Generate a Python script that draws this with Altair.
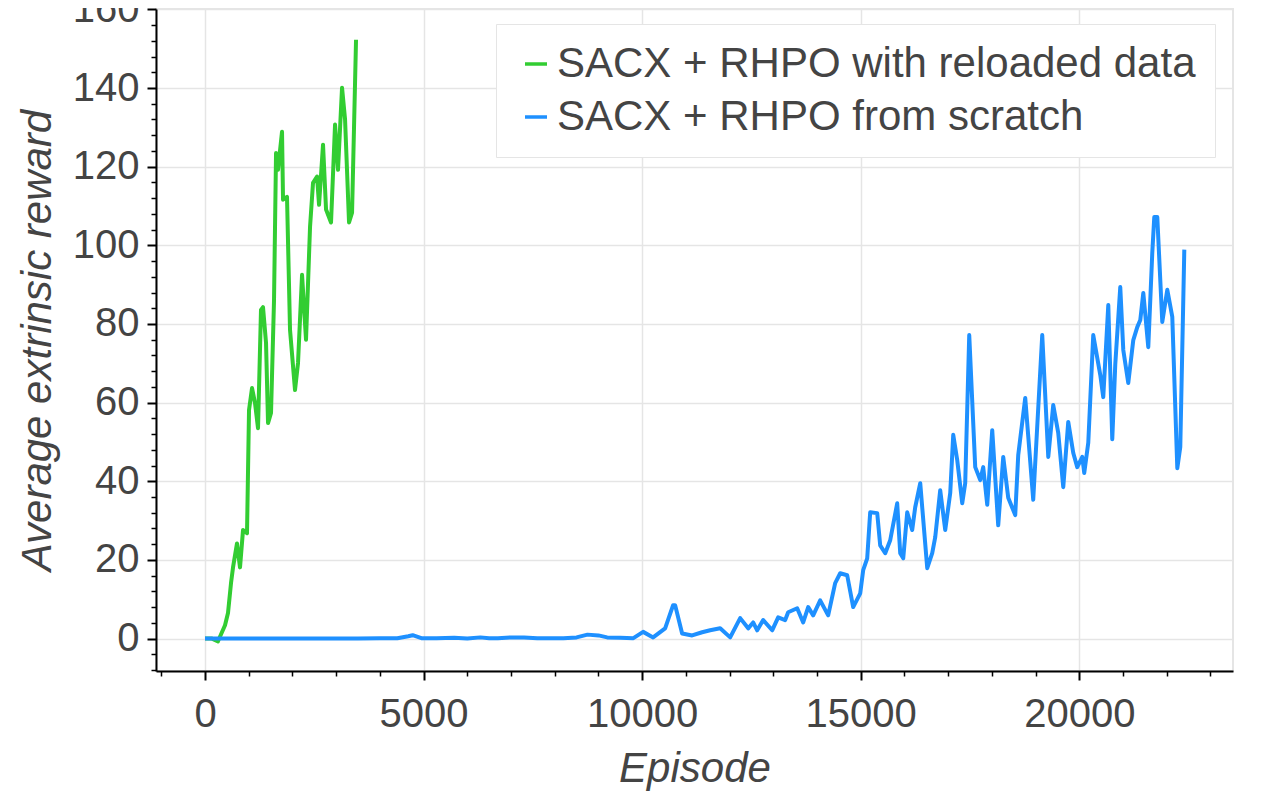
import altair as alt
import pandas as pd

# ---------------- data ----------------
series_names = ["SACX + RHPO with reloaded data", "SACX + RHPO from scratch"]
series_colors = ["#32CD32", "#1E90FF"]

green_ep = [0, 160, 297, 458, 526, 595, 641, 732, 801, 870, 961, 1007, 1076, 1144,
            1213, 1281, 1327, 1396, 1442, 1510, 1579, 1625, 1670, 1762, 1785, 1876,
            1945, 2059, 2128, 2220, 2311, 2403, 2471, 2563, 2609, 2700, 2769, 2883,
            2975, 3043, 3135, 3204, 3295, 3364, 3455]
green_val = [0, 0, -0.7, 3.4, 6.5, 14.1, 18.1, 24.2, 18.1, 27.6, 26.8, 58.1, 63.7, 59.9,
             53.5, 83.6, 84.3, 75.2, 54.8, 57.4, 86.1, 123.5, 119.2, 128.9, 111.6, 112.3,
             78.5, 63.2, 70.1, 92.5, 76.0, 104.7, 115.9, 117.5, 110.3, 125.6, 109.1, 105.8,
             130.7, 119.2, 140.1, 132.0, 105.8, 108.3, 152.3]

blue_ep = [0, 500, 1000, 1500, 2000, 2500, 3000, 3500, 4000, 4400, 4650, 4750, 4950,
           5300, 5700, 6000, 6300, 6500, 6700, 7000, 7300, 7600, 7900, 8200, 8500,
           8750, 9000, 9200, 9500, 9800,
           10023, 10252, 10526, 10709, 10755, 10915, 11144, 11373, 11556, 11785,
           12014, 12243, 12426, 12540, 12632, 12769, 12975, 13112, 13272, 13341,
           13547, 13684, 13799, 13913, 14073, 14256, 14416, 14531, 14691, 14828,
           14989, 15057, 15149, 15217, 15378, 15446, 15561, 15675, 15835, 15904,
           15973, 16064, 16178, 16247, 16362, 16522, 16636, 16705, 16819, 16934,
           17048, 17117, 17208, 17323, 17391, 17483, 17620, 17735, 17803, 17895,
           18009, 18146, 18261, 18375, 18535, 18604, 18764, 18947, 19153, 19291,
           19405, 19519, 19634, 19748, 19863, 19954, 20069, 20114, 20206, 20320,
           20481, 20549, 20664, 20755, 20824, 20938, 21007, 21121, 21236, 21327,
           21396, 21465, 21579, 21670, 21716, 21785, 21899, 22014, 22128, 22243,
           22311, 22403]
blue_val = [0, 0, 0, 0, 0, 0, 0, 0, 0.05, 0.1, 0.6, 0.85, 0.1,
            0.1, 0.2, 0.0, 0.3, 0.1, 0.1, 0.3, 0.3, 0.1, 0.1, 0.1, 0.3,
            1.0, 0.8, 0.3, 0.2, 0.1,
            1.7, 0.3, 2.6, 8.5, 8.5, 1.3, 0.8, 1.6, 2.1, 2.6,
            0.3, 5.2, 2.6, 4.1, 2.1, 4.7, 2.1, 5.4, 4.7, 6.7,
            7.7, 4.1, 8.0, 5.9, 9.7, 5.9, 14.1, 16.6, 16.1, 8.0,
            11.5, 17.4, 20.4, 32.1, 31.9, 23.7, 21.7, 25.0, 34.4, 21.7,
            20.4, 32.1, 27.6, 33.4, 39.5, 17.9, 21.7, 25.8, 37.7, 27.6,
            37.0, 51.8, 45.4, 34.4, 39.5, 77.2, 43.6, 40.3, 43.6, 34.0,
            53.0, 28.8, 46.2, 35.8, 31.4, 46.7, 61.2, 35.3, 77.2, 46.2,
            59.4, 52.3, 38.5, 55.1, 47.2, 43.6, 46.2, 42.1, 49.8, 77.2,
            67.0, 61.4, 84.8, 50.7, 69.8, 89.4, 73.4, 65.0, 75.9, 79.2,
            81.0, 87.9, 74.1, 98.0, 107.2, 107.2, 80.5, 88.7, 81.8, 43.3,
            48.7, 98.9]

x_domain = [-1121, 23517]
y_domain = [-8.25, 160.1]
x_ticks = list(range(-1000, 24000, 1000))   # major every 5000, minor every 1000
y_ticks = list(range(-8, 161, 4))           # major every 20, minor every 4

# ---------------- chart ----------------
FONT = "Liberation Sans"
TXT = "#444444"

df_green = pd.DataFrame({"Episode": green_ep, "reward": green_val, "series": series_names[0]})
df_blue = pd.DataFrame({"Episode": blue_ep, "reward": blue_val, "series": series_names[1]})

x_axis = alt.Axis(
    values=x_ticks, format="d", title="Episode",
    labelExpr="datum.value % 5000 === 0 ? datum.label : ''",
    tickSize={"condition": {"test": "datum.value % 5000 === 0", "value": 9}, "value": 5},
    tickWidth={"condition": {"test": "datum.value % 5000 === 0", "value": 2}, "value": 1.5},
    gridOpacity={"condition": {"test": "datum.value % 5000 === 0", "value": 1}, "value": 0},
    labelPadding=14, titlePadding=14,
)
y_axis = alt.Axis(
    values=y_ticks, format="d", title="Average extrinsic reward",
    labelExpr="datum.value % 20 === 0 ? datum.label : ''",
    tickSize={"condition": {"test": "datum.value % 20 === 0", "value": 9}, "value": 5},
    tickWidth={"condition": {"test": "datum.value % 20 === 0", "value": 2}, "value": 1.5},
    gridOpacity={"condition": {"test": "datum.value % 20 === 0", "value": 1}, "value": 0},
    labelPadding=8, titlePadding=13,
)

color = alt.Color(
    "series:N",
    scale=alt.Scale(domain=series_names, range=series_colors),
    legend=alt.Legend(
        title=None, orient="none", legendX=340, legendY=15,
        fillColor="white", strokeColor="#e5e5e5", padding=19,
        labelFont=FONT, labelFontSize=42, labelColor=TXT, labelLimit=2000,
        labelOffset=0, symbolType="stroke", symbolSize=484,
        symbolStrokeWidth=3.5, symbolOffset=0, rowPadding=11,
    ),
)


def line_layer(df):
    return alt.Chart(df).mark_line(strokeWidth=4, strokeJoin="round", clip=True).encode(
        x=alt.X("Episode:Q", scale=alt.Scale(domain=x_domain, nice=False, zero=False), axis=x_axis),
        y=alt.Y("reward:Q", scale=alt.Scale(domain=y_domain, nice=False, zero=False), axis=y_axis),
        color=color,
    )


chart = alt.layer(line_layer(df_green), line_layer(df_blue)).properties(
    width=1077, height=662,
    padding={"left": 148, "top": 1, "right": 30, "bottom": 120},
    autosize=alt.AutoSizeParams(type="none"),
).configure_view(
    stroke="#e5e5e5", strokeWidth=2,
).configure_axis(
    labelFont=FONT, labelFontSize=40, labelColor=TXT,
    titleFont=FONT, titleFontSize=42, titleColor=TXT,
    titleFontStyle="italic", titleFontWeight="normal",
    domainColor="#000000", domainWidth=2, tickColor="#000000",
    gridColor="#e5e5e5", gridWidth=1.5,
)

chart.save("out.html", embed_options={"renderer": "svg", "actions": False})
